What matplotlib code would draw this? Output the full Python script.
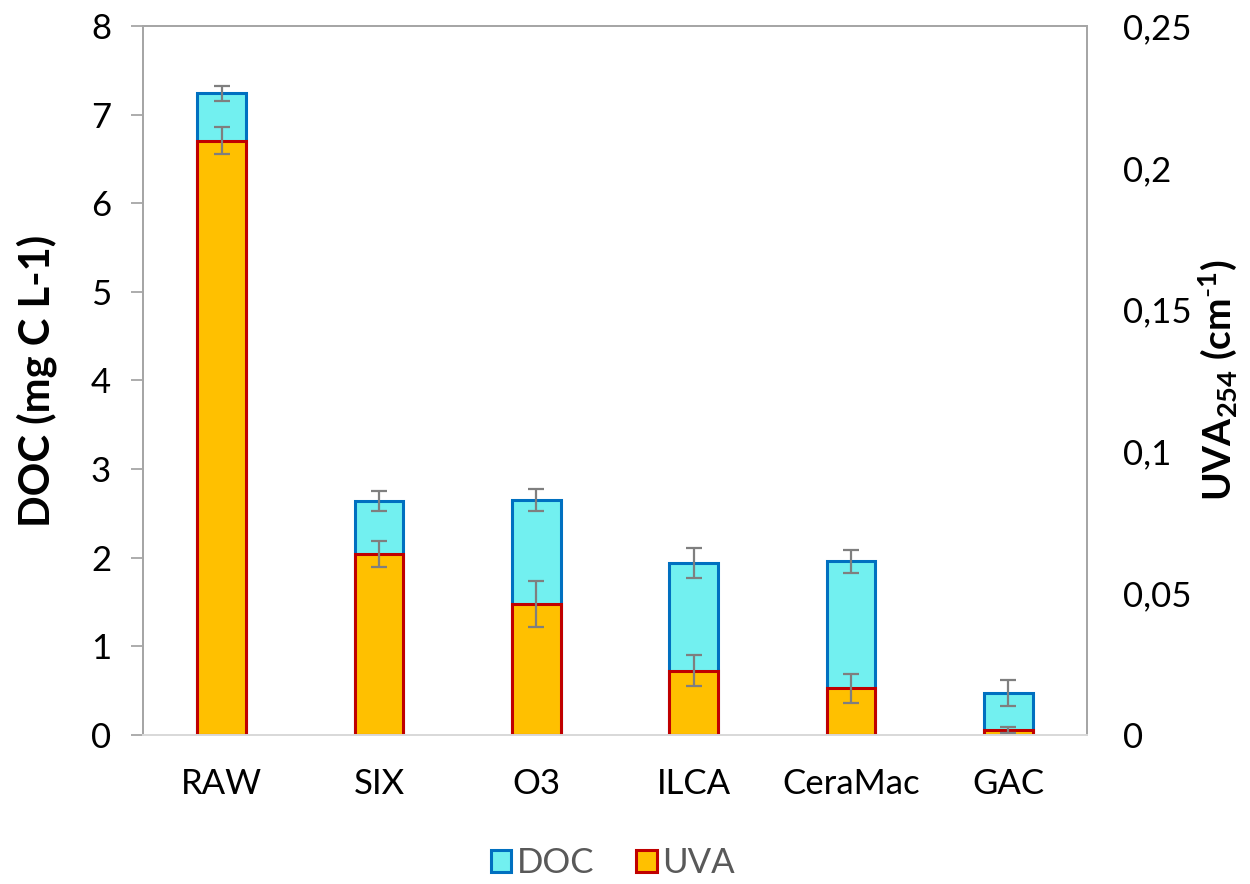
import matplotlib
matplotlib.use("Agg")
import matplotlib.pyplot as plt
from matplotlib.patches import Patch
from matplotlib.ticker import FuncFormatter, FixedLocator
import numpy as np

plt.rcParams['font.family'] = ['Lato', 'DejaVu Sans']
plt.rcParams['mathtext.fontset'] = 'custom'
plt.rcParams['mathtext.rm'] = 'Lato'
plt.rcParams['mathtext.bf'] = 'Lato:bold'
plt.rcParams['mathtext.default'] = 'bf'

# Treatment steps
categories = ["RAW", "SIX", "O3", "ILCA", "CeraMac", "GAC"]

# Dissolved organic carbon (mg C/L) and standard deviations
doc_values = [7.24, 2.64, 2.65, 1.94, 1.96, 0.47]
doc_errors = [0.085, 0.11, 0.12, 0.17, 0.13, 0.145]

# UV absorbance at 254 nm (1/cm) and standard deviations
uva_values = [0.2095, 0.0637, 0.0461, 0.0226, 0.0165, 0.0018]
uva_errors = [0.0048, 0.0046, 0.0082, 0.0055, 0.0051, 0.0011]

doc_ticks = [0, 1, 2, 3, 4, 5, 6, 7, 8]
uva_ticks = [0, 0.05, 0.1, 0.15, 0.2, 0.25]

fig = plt.figure(figsize=(12.5, 8.84), dpi=100)
ax = fig.add_axes([0.1144, 0.1686, 0.7552, 0.802])
ax2 = ax.twinx()

x = np.arange(len(categories))
width = 0.31
err_kw = dict(ecolor="#7F7F7F", elinewidth=1.6, capsize=6, capthick=1.6)

ax.bar(x, doc_values, width, yerr=doc_errors, color="#72F0F0",
       edgecolor="#0070C0", linewidth=2.2, error_kw=err_kw, zorder=2)
ax2.bar(x, uva_values, width, yerr=uva_errors, color="#FFC000",
        edgecolor="#C00000", linewidth=2.2, error_kw=err_kw, zorder=2)

ax.set_xlim(-0.5, len(categories) - 0.5)
ax.set_ylim(0, 8)
ax2.set_ylim(0, 0.25)

ax.yaxis.set_major_locator(FixedLocator(doc_ticks))
ax2.yaxis.set_major_locator(FixedLocator(uva_ticks))
ax2.yaxis.set_major_formatter(
    FuncFormatter(lambda v, p: f"{v:g}".replace(".", ",")))

ax.set_xticks(x)
ax.set_xticklabels(categories)

ax.tick_params(axis="x", length=0, pad=24, labelsize=25)
ax.tick_params(axis="y", length=9, width=1.3, color="#A6A6A6", pad=14,
               labelsize=25)
ax2.tick_params(axis="y", length=0, pad=26, labelsize=25)

for a in (ax, ax2):
    for name, sp in a.spines.items():
        sp.set_color("#A6A6A6")
        sp.set_linewidth(1.4)
    a.spines["bottom"].set_color("#D9D9D9")

ax.set_ylabel("DOC (mg C L-1)", fontsize=30, fontweight="bold", labelpad=24)
ax2.set_ylabel(r"UVA$_{254}$ (cm$^{\text{-}1}$)", fontsize=28,
               fontweight="bold", rotation=90, labelpad=3)

handles = [Patch(facecolor="#72F0F0", edgecolor="#0070C0", linewidth=2.2),
           Patch(facecolor="#FFC000", edgecolor="#C00000", linewidth=2.2)]
leg = fig.legend(handles, ["DOC", "UVA"], loc="lower center",
                 bbox_to_anchor=(0.49, -0.03), ncol=2, frameon=False,
                 fontsize=25, handlelength=0.6, handleheight=0.6,
                 handletextpad=0.15, columnspacing=1.2)
for t in leg.get_texts():
    t.set_color("#595959")

fig.savefig("out.png", dpi=100)
